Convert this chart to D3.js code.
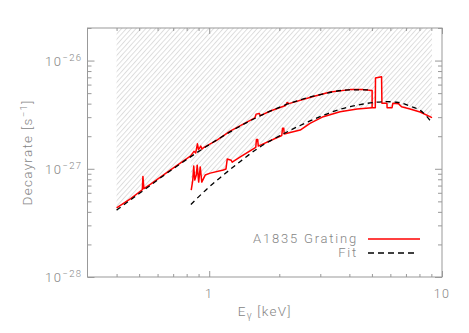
<!DOCTYPE html>
<html>
<head>
<meta charset="utf-8">
<script src="https://cdn.jsdelivr.net/npm/d3@7"></script>
<style>
  body { margin: 0; background: #fff; }
  text { font-family: Roboto, "Liberation Sans", sans-serif; font-weight: 300; fill: #858585; }
</style>
</head>
<body>
<svg id="chart"></svg>
<script>
// A1835 grating decay rate, first range [keV, s^-1]
const grating1 = [
  [0.40, 4.35e-28], [0.46, 5.3e-28], [0.516, 6.4e-28], [0.519, 8.5e-28], [0.524, 6.55e-28],
  [0.56, 7.2e-28], [0.68, 9.7e-28], [0.83, 1.31e-27], [0.86, 1.45e-27], [0.875, 1.4e-27],
  [0.89, 1.7e-27], [0.90, 1.5e-27], [0.92, 1.62e-27], [0.93, 1.52e-27], [0.95, 1.58e-27],
  [1.08, 1.84e-27], [1.23, 2.23e-27], [1.57, 2.95e-27], [1.59, 3.2e-27], [1.64, 3.25e-27],
  [1.66, 3.1e-27], [1.83, 3.42e-27], [2.13, 3.85e-27], [2.16, 4.1e-27], [2.20, 4.0e-27],
  [2.80, 4.65e-27], [3.31, 5.13e-27], [4.03, 5.39e-27], [4.58, 5.39e-27], [5.01, 5.28e-27],
  [5.01, 3.67e-27]
];
// second range
const grating2 = [
  [0.837, 6.35e-28], [0.850, 7.86e-28], [0.858, 1.06e-27], [0.867, 7.86e-28], [0.880, 8.75e-28],
  [0.888, 1.08e-27], [0.901, 7.53e-28], [0.915, 1.04e-27], [0.929, 7.53e-28], [0.961, 8.75e-28],
  [1.01, 9.12e-28], [1.15, 9.73e-28], [1.18, 9.94e-28], [1.195, 1.23e-27], [1.243, 1.2e-27],
  [1.255, 1.15e-27], [1.36, 1.29e-27], [1.585, 1.58e-27], [1.595, 1.86e-27], [1.615, 1.86e-27],
  [1.625, 1.62e-27], [2.05, 2.03e-27], [2.065, 2.37e-27], [2.09, 2.37e-27], [2.10, 2.1e-27],
  [2.46, 2.28e-27], [2.71, 2.63e-27], [3.09, 3.03e-27], [3.65, 3.37e-27], [4.32, 3.57e-27],
  [5.01, 3.67e-27], [5.17, 3.67e-27], [5.18, 6.9e-27], [5.50, 7.1e-27], [5.52, 4.03e-27],
  [5.80, 4.03e-27], [5.81, 3.67e-27], [6.10, 3.67e-27], [6.15, 4.03e-27], [6.50, 4.0e-27],
  [6.70, 3.75e-27], [7.29, 3.57e-27], [8.05, 3.35e-27], [9.06, 2.97e-27]
];
const fit1 = [
  [0.40, 4.15e-28], [0.5, 5.9e-28], [0.7, 1.0e-27], [1.0, 1.67e-27], [1.5, 2.78e-27],
  [2.0, 3.7e-27], [3.0, 4.85e-27], [4.0, 5.35e-27], [5.0, 5.35e-27]
];
const fit2 = [
  [0.834, 4.68e-28], [0.9, 5.5e-28], [1.0, 6.8e-28], [1.15, 8.75e-28], [1.36, 1.17e-27],
  [1.6, 1.52e-27], [2.08, 2.1e-27], [2.8, 2.85e-27], [3.65, 3.55e-27], [4.59, 3.97e-27],
  [5.19, 4.12e-27], [5.79, 4.17e-27], [6.39, 4.12e-27], [7.29, 3.8e-27], [8.3, 3.3e-27],
  [9.0, 2.7e-27]
];
const xMajor = [1, 10];
const xMinor = [0.4, 0.5, 0.6, 0.7, 0.8, 0.9, 2, 3, 4, 5, 6, 7, 8, 9];
const yExps = [-28, -27, -26];
const yMinor = [2, 3, 4, 5, 6, 7, 8, 9].map(m => m * 1e-28)
  .concat([2, 3, 4, 5, 6, 7, 8, 9].map(m => m * 1e-27), [2e-26]);
const legendLabels = ["A1835 Grating", "Fit"];

const W = 469, H = 333;
const margin = { top: 28, right: 27, bottom: 56, left: 87.5 };
const iw = W - margin.left - margin.right;
const ih = H - margin.top - margin.bottom;

const svg = d3.select("#chart").attr("width", W).attr("height", H);

//hatch pattern
svg.append("defs").append("pattern")
  .attr("id", "hatch")
  .attr("patternUnits", "userSpaceOnUse")
  .attr("width", 3.6).attr("height", 10)
  .attr("patternTransform", "rotate(42)")
  .append("line")
  .attr("x1", 0.5).attr("y1", 0).attr("x2", 0.5).attr("y2", 10)
  .attr("stroke", "#d0d0d0").attr("stroke-width", 0.75);

const g = svg.append("g").attr("transform", `translate(${margin.left},${margin.top})`);

const x = d3.scaleLog().domain([0.3, 10]).range([0, iw]);
const y = d3.scaleLog().domain([1e-28, 2e-26]).range([ih, 0]);

//hatched region above the measured curves
const hatchEdge = grating1.filter(d => d[0] < 0.837).concat(grating2);
g.append("path")
  .datum(hatchEdge)
  .attr("fill", "url(#hatch)")
  .attr("d", d3.area().x(d => x(d[0])).y0(y(2e-26)).y1(d => y(d[1])));

const line = d3.line().x(d => x(d[0])).y(d => y(d[1]));
const smooth = d3.line().x(d => x(d[0])).y(d => y(d[1])).curve(d3.curveMonotoneX);

[grating1, grating2].forEach(s => {
  g.append("path").datum(s)
    .attr("fill", "none").attr("stroke", "#f00").attr("stroke-width", 1.5)
    .attr("stroke-linejoin", "round")
    .attr("d", line);
});
[fit1, fit2].forEach(s => {
  g.append("path").datum(s)
    .attr("fill", "none").attr("stroke", "#000").attr("stroke-width", 1.3)
    .attr("stroke-dasharray", "5,4")
    .attr("d", smooth);
});

//axes (ticks point inwards on all four sides)
function ticks(axis, vals, size, tr) {
  const a = g.append("g").attr("transform", tr)
    .call(axis.tickValues(vals).tickSize(-size).tickSizeOuter(0).tickFormat(""));
  a.select(".domain").remove();
  a.selectAll("line").attr("stroke", "#999");
}
ticks(d3.axisBottom(x), xMajor, 6, `translate(0,${ih})`);
ticks(d3.axisBottom(x), xMinor, 3, `translate(0,${ih})`);
ticks(d3.axisTop(x), xMajor, 6, "translate(0,0)");
ticks(d3.axisTop(x), xMinor, 3, "translate(0,0)");
const yMajor = yExps.map(e => Math.pow(10, e));
ticks(d3.axisLeft(y), yMajor, 7, "translate(0,0)");
ticks(d3.axisLeft(y), yMinor, 4, "translate(0,0)");
ticks(d3.axisRight(y), yMajor, 7, `translate(${iw},0)`);
ticks(d3.axisRight(y), yMinor, 4, `translate(${iw},0)`);

g.append("rect").attr("width", iw).attr("height", ih)
  .attr("fill", "none").attr("stroke", "#999").attr("stroke-width", 1);

//tick labels
g.selectAll(".xl").data(xMajor).join("text")
  .attr("x", d => x(d)).attr("y", ih + 21)
  .attr("text-anchor", "middle").attr("font-size", 12.5).attr("letter-spacing", 1.4)
  .text(d => d);

const yl = g.selectAll(".yl").data(yExps).join("text")
  .attr("x", -5).attr("y", d => y(Math.pow(10, d)) + 5)
  .attr("text-anchor", "end").attr("font-size", 13).attr("letter-spacing", 1.4);
yl.append("tspan").text("10");
yl.append("tspan").attr("dy", -5).attr("font-size", 9.5).text(d => "\u2212" + (-d));

//axis titles
const xt = g.append("text")
  .attr("x", iw / 2).attr("y", ih + 39)
  .attr("text-anchor", "middle").attr("font-size", 13.5).attr("letter-spacing", 1.2);
xt.append("tspan").text("E");
xt.append("tspan").attr("dy", 3).attr("font-size", 10).text("\u03b3");
xt.append("tspan").attr("dy", -3).text(" [keV]");

const yt = g.append("text")
  .attr("transform", `translate(${-margin.left + 32},${ih / 2}) rotate(-90)`)
  .attr("text-anchor", "middle").attr("font-size", 13.5).attr("letter-spacing", 1.3);
yt.append("tspan").text("Decayrate [s");
yt.append("tspan").attr("dy", -5).attr("font-size", 9.5).text("\u22121");
yt.append("tspan").attr("dy", 5).text("]");

//legend
const leg = g.append("g").attr("transform", `translate(${iw - 84},${ih - 38})`);
leg.selectAll("text").data(legendLabels).join("text")
  .attr("x", 0).attr("y", (d, i) => i * 14 + 4)
  .attr("text-anchor", "end").attr("font-size", 13).attr("letter-spacing", 1.8)
  .text(d => d);
leg.append("line").attr("x1", 10).attr("x2", 62).attr("y1", 0).attr("y2", 0)
  .attr("stroke", "#f00").attr("stroke-width", 1.5);
leg.append("line").attr("x1", 10).attr("x2", 58).attr("y1", 14).attr("y2", 14)
  .attr("stroke", "#000").attr("stroke-width", 1.3).attr("stroke-dasharray", "6,4");
</script>
</body>
</html>
